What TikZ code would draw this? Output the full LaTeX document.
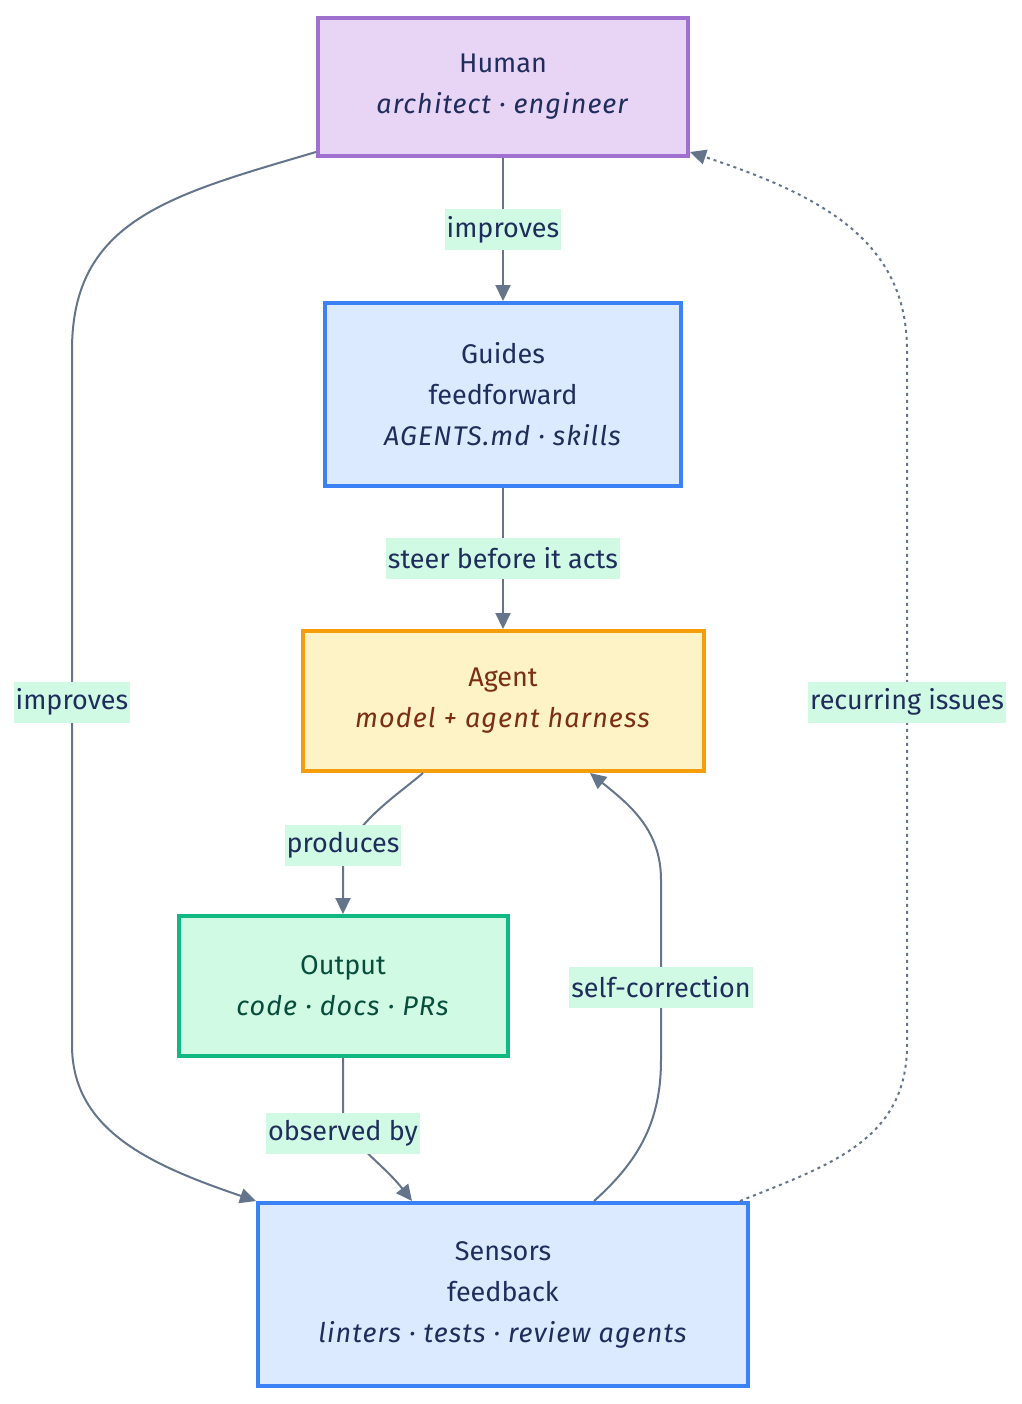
\documentclass[tikz,border=0pt]{standalone}
\usepackage{fontspec}
\setmainfont{Fira Sans}[ItalicFeatures={LetterSpace=4}]
\usetikzlibrary{positioning,arrows.meta}

\definecolor{navy}{RGB}{31,45,92}
\definecolor{slate}{RGB}{100,116,139}
\definecolor{mint}{RGB}{209,250,229}
\definecolor{humanfill}{RGB}{232,213,245}
\definecolor{humanline}{RGB}{160,112,208}
\definecolor{bluefill}{RGB}{219,234,254}
\definecolor{blueline}{RGB}{59,130,246}
\definecolor{agentfill}{RGB}{254,243,199}
\definecolor{agentline}{RGB}{245,158,11}
\definecolor{agenttext}{RGB}{124,45,18}
\definecolor{outfill}{RGB}{209,250,229}
\definecolor{outline}{RGB}{16,185,129}
\definecolor{outtext}{RGB}{6,78,59}

\begin{document}
\begin{tikzpicture}[x=0.5pt,y=-0.5pt,
    >={Triangle[length=8pt,width=7.5pt]},
    font=\fontsize{13.5}{20.5}\selectfont,
    box/.style={draw,line width=2pt,align=center,text=navy},
    lbl/.style={fill=mint,text=navy,inner xsep=1pt,inner ysep=0pt,minimum height=20.5pt},
    link/.style={draw=slate,line width=1pt}]
      \useasboundingbox (0,0) rectangle (1022,1404);

      \node[box,fill=humanfill,draw=humanline,minimum width=185pt,minimum height=69pt] (human) at (503,87) {Human\\\textit{architect · engineer}};
      \node[box,fill=bluefill,draw=blueline,minimum width=178pt,minimum height=91.5pt] (guides) [below=71.5pt of human] {Guides\\feedforward\\\textit{AGENTS.md · skills}};
      \node[box,fill=agentfill,draw=agentline,text=agenttext,minimum width=200.5pt,minimum height=70pt] (agent) [below=70.5pt of guides] {Agent\\\textit{model + agent harness}};
      \node[box,fill=outfill,draw=outline,text=outtext,minimum width=164.5pt,minimum height=70pt] (output) [below=70.5pt of agent,xshift=-80pt] {Output\\\textit{code · docs · PRs}};
      \node[box,fill=bluefill,draw=blueline,minimum width=245pt,minimum height=91.5pt] (sensors) [below=71.5pt of output,xshift=80pt] {Sensors\\feedback\\\textit{linters · tests · review agents}};

      \draw[link,->] (human) -- node[lbl] (improvesG) {improves} (guides);
      \draw[link,->] (guides) -- node[lbl] (steer) {steer before it acts} (agent);
      \draw[link,->] ([xshift=-40pt]agent.south) .. controls (395,797) and (343,830) .. (343,870) -- (output);
      \draw[link,->] (output) -- (343,1110) .. controls (343,1140) and (380,1160) .. ([xshift=-45.5pt]sensors.north);
      \draw[link,->] ([xshift=45.5pt]sensors.north) .. controls (640,1160) and (661,1120) .. (661,1060) -- (661,880) .. controls (661,830) and (630,805) .. ([xshift=43.5pt]agent.south);
      \draw[link,->] ([yshift=3pt]human.south west) .. controls (170,195) and (72,220) .. (72,350) -- (72,1045) .. controls (72,1130) and (150,1165) .. (sensors.north west);
      \draw[link,->,dash pattern=on 1.5pt off 2pt] ([xshift=-5pt]sensors.north east) .. controls (830,1165) and (907,1140) .. (907,1045) -- (907,350) .. controls (907,240) and (820,195) .. ([yshift=3pt]human.south east);

      \node[lbl] (produces) at (343,845) {produces};
      \node[lbl] (observed) at (343,1133) {observed by};
      \node[lbl] (selfcorr) at (661,987) {self-correction};
      \node[lbl] (improvesS) at (72,702) {improves};
      \node[lbl] (recurring) at (907,702) {recurring issues};
    \end{tikzpicture}
\end{document}
